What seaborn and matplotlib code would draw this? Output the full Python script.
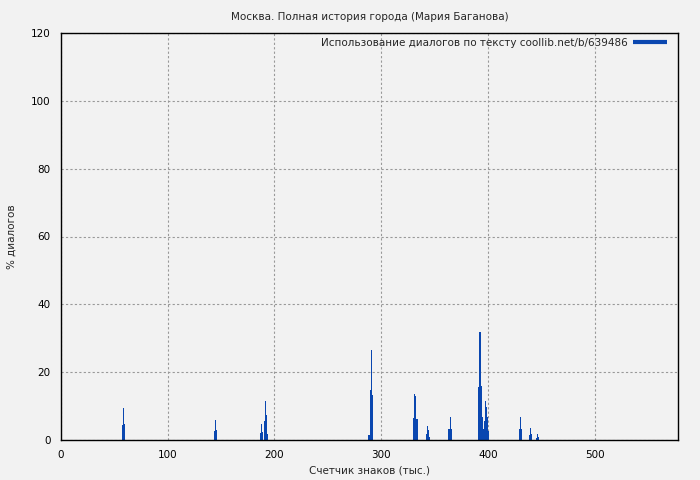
import numpy as np
import pandas as pd
import matplotlib
matplotlib.use('Agg')
import matplotlib.pyplot as plt
import seaborn as sns
from matplotlib.lines import Line2D

# позиции (тыс. знаков) и доля диалогов (%)
positions = [57, 58, 59,
             143, 144, 145,
             186, 187, 188, 190, 191, 192, 193,
             288, 289, 290, 291,
             330, 331, 332, 333,
             342, 343, 344, 345,
             363, 364, 365,
             391, 392, 393, 394, 395, 396, 397, 398, 399, 400,
             429, 430, 431,
             438, 439, 440,
             445, 446, 447]
dialog_pct = [4.4, 9.4, 4.7,
              2.7, 5.9, 2.9,
              2.2, 4.7, 2.3, 5.6, 11.5, 7.4, 1.8,
              1.5, 14.7, 26.5, 13.3,
              6.5, 13.6, 13.0, 6.2,
              1.8, 4.1, 2.9, 0.9,
              3.2, 6.8, 3.2,
              15.6, 31.9, 15.9, 6.8, 3.2, 5.6, 11.5, 9.7, 6.8, 2.6,
              3.2, 6.8, 3.2,
              1.5, 3.5, 1.8,
              0.6, 1.8, 0.9]

title = 'Москва. Полная история города (Мария Баганова)'
legend_label = 'Использование диалогов по тексту coollib.net/b/639486'
bar_color = '#0a47b0'
bg = '#f2f2f2'

df = pd.DataFrame({'pos': positions, 'pct': dialog_pct})

sns.set_style('white')
plt.rcParams['font.family'] = ['DejaVu Sans']
plt.rcParams['font.size'] = 7.5

fig, ax = plt.subplots(figsize=(7, 4.8), dpi=100)
fig.patch.set_facecolor(bg)
ax.set_facecolor(bg)
fig.subplots_adjust(left=61 / 700, right=678 / 700, top=1 - 33 / 480, bottom=1 - 440 / 480)

sns.histplot(data=df, x='pos', weights='pct', binwidth=1, binrange=(0, 578),
             color=bar_color, alpha=1, linewidth=0, ax=ax)

ax.set_xlim(0, 578)
ax.set_ylim(0, 120)
ax.set_xticks(range(0, 501, 100))
ax.set_yticks(range(0, 121, 20))
ax.tick_params(direction='out', length=4, width=1, labelsize=7.5, colors='black')
ax.grid(True, linestyle=(0, (2, 2)), color='#999999', linewidth=0.8)
ax.set_axisbelow(True)
for s in ax.spines.values():
    s.set_color('black')
    s.set_linewidth(1)

ax.set_title(title, fontsize=7.5, pad=9)
ax.set_xlabel('Счетчик знаков (тыс.)', fontsize=7.5)
ax.set_ylabel('% диалогов', fontsize=7.5, labelpad=10)

ax.legend(handles=[Line2D([], [], color=bar_color, lw=3, solid_capstyle='butt')],
          labels=[legend_label], loc='upper right', bbox_to_anchor=(0.982, 0.988),
          frameon=False, markerfirst=False, fontsize=7.5, borderpad=0,
          handlelength=3.3, handletextpad=0.5, borderaxespad=0)

fig.savefig('out.png', dpi=100, facecolor=bg)
